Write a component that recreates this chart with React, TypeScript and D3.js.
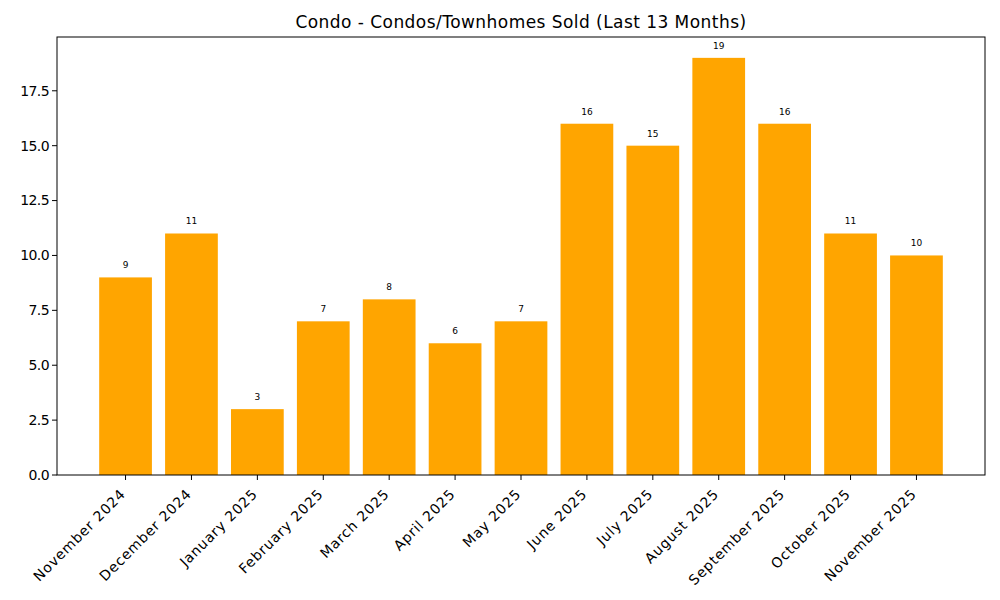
import React from "react";
import * as d3 from "d3";

const months = [
  "November 2024", "December 2024", "January 2025", "February 2025", "March 2025",
  "April 2025", "May 2025", "June 2025", "July 2025", "August 2025",
  "September 2025", "October 2025", "November 2025",
];
const sold = [9, 11, 3, 7, 8, 6, 7, 16, 15, 19, 16, 11, 10];
const yTicks = [0, 2.5, 5, 7.5, 10, 12.5, 15, 17.5];
const title = "Condo - Condos/Townhomes Sold (Last 13 Months)";

const W = 1000, H = 600;
const left = 57, right = 985, top = 37, bottom = 475;
const FONT = "'DejaVu Sans', sans-serif";

export default function App() {
  const n = months.length;
  const x = d3.scaleLinear().domain([-1.04, n - 1 + 1.04]).range([left, right]);
  const yMax = d3.max(sold)! * 1.05;
  const y = d3.scaleLinear().domain([0, yMax]).range([bottom, top]);
  const bw = x(0.8) - x(0);
  return (
    <svg width={W} height={H} style={{ position: "absolute", left: 0, top: 0, background: "#fff" }} fontFamily={FONT}>
      <rect x={0} y={0} width={W} height={H} fill="#fff" />
      {sold.map((v, i) => (
        <g key={i}>
          <rect x={x(i) - bw / 2} y={y(v)} width={bw} height={y(0) - y(v)} fill="#FFA500" />
          <text x={x(i)} y={y(v) - 9} textAnchor="middle" fontSize={9} fill="#000">{v}</text>
        </g>
      ))}
      <rect x={left} y={top} width={right - left} height={bottom - top} fill="none" stroke="#000" strokeWidth={1} />
      {yTicks.map((t) => (
        <g key={t}>
          <line x1={left - 5} x2={left} y1={y(t)} y2={y(t)} stroke="#000" />
          <text x={left - 8} y={y(t)} dy="0.35em" textAnchor="end" fontSize={14} letterSpacing={-0.6} fill="#000">{t.toFixed(1)}</text>
        </g>
      ))}
      {months.map((m, i) => (
        <g key={m}>
          <line x1={x(i)} x2={x(i)} y1={bottom} y2={bottom + 5} stroke="#000" />
          <text transform={`translate(${x(i) - 6},${bottom + 13}) rotate(-45)`} textAnchor="end" dy="0.7em" fontSize={14} letterSpacing={0.8} fill="#000">{m}</text>
        </g>
      ))}
      <text x={(left + right) / 2} y={top - 9} textAnchor="middle" fontSize={17} letterSpacing={0.45} fill="#000">{title}</text>
    </svg>
  );
}
